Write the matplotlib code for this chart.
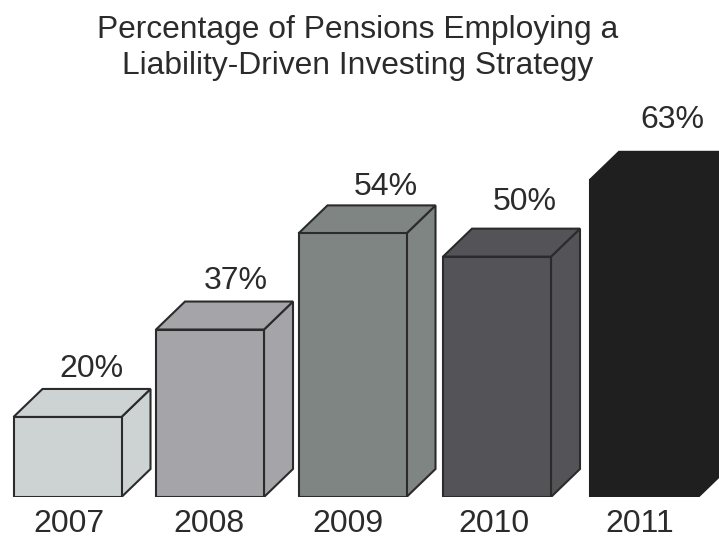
import numpy as np
import matplotlib
matplotlib.use('Agg')
import matplotlib.pyplot as plt
from matplotlib.patches import Polygon

years = ['2007', '2008', '2009', '2010', '2011']
percent = [20, 37, 54, 50, 63]

colors = ['#cdd3d3', '#a5a4a8', '#7f8583', '#545358', '#1f1f1f']
edges = ['#2b2b2b', '#2b2b2b', '#2b2b2b', '#2b2b2b', '#1f1f1f']

# layout, in pixels
W, H = 719, 539
base = 42
left = [13.5, 156, 298.5, 443, 590]
bar_w = 108
depth_x, depth_y = 29, 28
year_x = [69, 209, 348, 494, 640]
label_dx = [77.5, 80, 87, 82, 82]
label_dy = [12, 13, 10, 19, 24]

text_color = '#2b2b2b'
plt.rcParams['font.family'] = ['Liberation Sans', 'DejaVu Sans']

fig = plt.figure(figsize=(W / 100, H / 100), dpi=100)
ax = fig.add_axes([0, base / H, 1, 1 - base / H])
# bars grow a little faster than linear
ax.set_yscale('function', functions=(lambda v: np.power(np.maximum(v, 0), 1.2),
                                     lambda v: np.power(np.maximum(v, 0), 1 / 1.2)))
ax.set_xlim(0, W)
ax.set_ylim(0, 91.6)

ax.bar(left, percent, width=bar_w, align='edge', color=colors, edgecolor=edges,
       linewidth=1.5, joinstyle='miter', zorder=3)

to_px = ax.transData.transform
for x, v, c, e, dx, dy in zip(left, percent, colors, edges, label_dx, label_dy):
    (x0, y0), (x1, y1) = to_px([(x, 0), (x + bar_w, v)])
    top = [(x0, y1), (x1, y1), (x1 + depth_x, y1 + depth_y), (x0 + depth_x, y1 + depth_y)]
    side = [(x1, y0), (x1 + depth_x, y0 + depth_y), (x1 + depth_x, y1 + depth_y), (x1, y1)]
    for pts in (side, top):
        ax.add_patch(Polygon(pts, closed=True, facecolor=c, edgecolor=e, linewidth=1.5,
                             joinstyle='miter', transform=None, zorder=2))
    ax.annotate(f'{v}%', xy=(x, v), xytext=(dx, depth_y + dy), xycoords='data',
                textcoords='offset pixels', ha='center', va='baseline',
                fontsize=23, color=text_color, annotation_clip=False)

ax.set_xticks(year_x)
ax.set_xticklabels(years, fontsize=23, color=text_color)
ax.tick_params(axis='x', length=0, pad=9)
ax.set_yticks([])
ax.minorticks_off()
for s in ax.spines.values():
    s.set_visible(False)

fig.text(357.5 / W, 1 - 48 / H, 'Percentage of Pensions Employing a\nLiability-Driven Investing Strategy',
         ha='center', va='center', fontsize=22.85, color=text_color, linespacing=1.26)

fig.savefig('out.png', dpi=100)
